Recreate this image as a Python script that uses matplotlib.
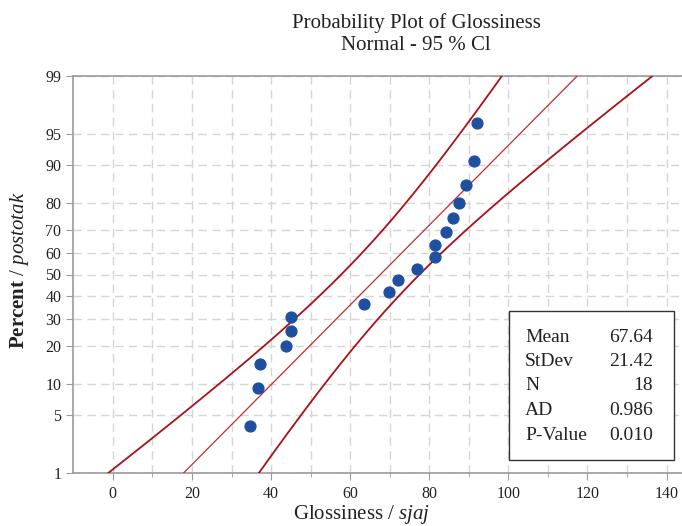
import matplotlib
matplotlib.use("Agg")
import matplotlib.pyplot as plt
import numpy as np
from statistics import NormalDist
from matplotlib.patches import Rectangle

# ---------------------------------------------------------------------------
# Data
# ---------------------------------------------------------------------------
glossiness = [34.8, 36.6, 37.1, 43.7, 45.1, 45.1, 63.6, 69.9, 72.2,
              77.0, 81.5, 81.5, 84.3, 86.0, 87.6, 89.2, 91.4, 92.0]
percent = [3.8, 9.2, 14.7, 20.1, 25.5, 31.0, 36.4, 41.8, 47.3,
           52.7, 58.2, 63.6, 69.0, 74.5, 79.9, 85.3, 90.8, 96.2]

MEAN = 67.64
STDEV = 21.42
N = 18
AD = 0.986
PVAL = 0.010

stat_labels = ["Mean", "StDev", "N", "AD", "P-Value"]
stat_values = [f"{MEAN:.2f}", f"{STDEV:.2f}", f"{N}", f"{AD:.3f}", f"{PVAL:.3f}"]

y_ticks = [1, 5, 10, 20, 30, 40, 50, 60, 70, 80, 90, 95, 99]
x_major = [0, 20, 40, 60, 80, 100, 120, 140]

# ---------------------------------------------------------------------------
# Normal probability scale
# ---------------------------------------------------------------------------
_nd = NormalDist()
_ppf = np.vectorize(lambda p: _nd.inv_cdf(p), otypes=[float])
_cdf = np.vectorize(lambda z: _nd.cdf(z), otypes=[float])


def _fwd(p):
    p = np.clip(np.asarray(p, dtype=float), 1e-6, 100 - 1e-6)
    return _ppf(p / 100.0)


def _inv(z):
    return _cdf(np.asarray(z, dtype=float)) * 100.0


plt.rcParams["font.family"] = ["Liberation Serif", "DejaVu Serif"]
plt.rcParams["mathtext.fontset"] = "custom"
plt.rcParams["mathtext.rm"] = "Liberation Serif"
plt.rcParams["mathtext.it"] = "Liberation Serif:italic"
plt.rcParams["mathtext.bf"] = "Liberation Serif:bold"

fig = plt.figure(figsize=(6.82, 5.26), dpi=100)
ax = fig.add_axes([73.3 / 682, 1 - 473.3 / 526, 1 - 73.3 / 682, (473.3 - 75.7) / 526])
ax.set_yscale("function", functions=(_fwd, _inv))

# fitted line and 95% CI (ML-style percentile variance)
pp = np.linspace(0.2, 99.8, 400)
zz = _fwd(pp)
fit = MEAN + zz * STDEV
half = 1.96 * STDEV * np.sqrt(1.0 / N + zz ** 2 / (2.0 * N))
ax.plot(fit, pp, color="#b8312f", lw=0.9, zorder=3)
ax.plot(fit - half, pp, color="#a8101a", lw=1.3, zorder=3)
ax.plot(fit + half, pp, color="#a8101a", lw=1.3, zorder=3)

ax.plot(glossiness, percent, "o", ms=7.8, color="#1f4f9f", mec="#1f4f9f", zorder=4)

ax.set_xlim(-10, 143.9)
ax.set_ylim(1, 99)
ax.set_xticks(x_major)
ax.set_xticks(np.arange(10, 141, 20), minor=True)
ax.set_yticks(y_ticks)
ax.set_yticklabels([str(t) for t in y_ticks])
ax.yaxis.set_minor_locator(matplotlib.ticker.NullLocator())

ax.grid(True, which="both", color="#d8d4d2", ls=(0, (6, 4)), lw=1.0)
ax.set_axisbelow(True)
for side in ("left", "bottom", "top"):
    ax.spines[side].set_color("#9a9a9a")
    ax.spines[side].set_linewidth(1.2)
ax.spines["right"].set_visible(False)
ax.tick_params(which="both", direction="out", color="#9a9a9a", length=5,
               labelsize=11.5, labelcolor="#222222")
ax.tick_params(which="minor", length=3)
ax.tick_params(axis="x", pad=4)

# stats box
box = Rectangle((509 / 682, 1 - 460 / 526), 165 / 682, 149 / 526,
                transform=fig.transFigure, facecolor="white",
                edgecolor="#333333", lw=1.0, zorder=5)
fig.patches.append(box)
for i, (lab, val) in enumerate(zip(stat_labels, stat_values)):
    yy = 1 - (337 + i * 24.5) / 526
    fig.text(525 / 682, yy, lab, fontsize=14, ha="left", va="center",
             color="#222222", zorder=6)
    fig.text(653 / 682, yy, val, fontsize=14, ha="right", va="center",
             color="#222222", zorder=6)

fig.text(416 / 682, 1 - 34 / 526, "Probability Plot of Glossiness\nNormal - 95 % Cl",
         ha="center", va="center", fontsize=15, linespacing=1.15, color="#222222")
fig.text(362 / 682, 1 - 514 / 526, r"Glossiness / $\mathit{sjaj}$",
         ha="center", va="center", fontsize=15, color="#222222")
fig.text(20 / 682, 1 - 270 / 526, r"$\mathbf{Percent}$ / $\mathit{postotak}$",
         ha="center", va="center", rotation=90, fontsize=15, color="#222222")

fig.savefig("out.png", dpi=100)
